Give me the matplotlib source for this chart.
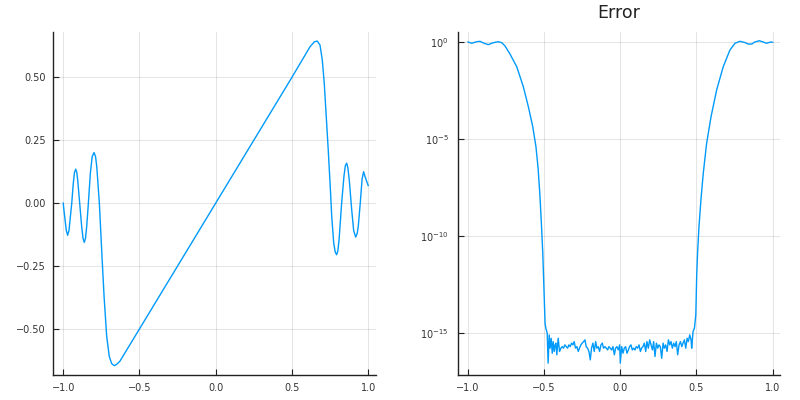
import numpy as np
import matplotlib.pyplot as plt

# left panel: approximation curve
fx = [-1.0, -0.994, -0.988, -0.980, -0.971, -0.962, -0.955, -0.944, -0.934, -0.926,
      -0.918, -0.911, -0.905, -0.892, -0.879, -0.870, -0.862, -0.854, -0.846, -0.835,
      -0.822, -0.810, -0.798, -0.788, -0.780, -0.763, -0.748, -0.732, -0.715, -0.698,
      -0.682, -0.665, -0.648, -0.628, -0.562, -0.5, 0.0, 0.5, 0.586, 0.618,
      0.647, 0.666, 0.684, 0.699, 0.712, 0.725, 0.738, 0.750, 0.761, 0.774,
      0.784, 0.793, 0.801, 0.809, 0.826, 0.841, 0.850, 0.859, 0.867, 0.876,
      0.892, 0.905, 0.918, 0.928, 0.935, 0.948, 0.960, 0.970, 0.979, 1.0]
fy = [0.0, -0.035, -0.066, -0.108, -0.128, -0.108, -0.066, 0.0, 0.079, 0.122,
      0.135, 0.122, 0.092, 0.0, -0.093, -0.140, -0.156, -0.140, -0.093, 0.0,
      0.119, 0.185, 0.201, 0.185, 0.145, 0.0, -0.185, -0.371, -0.529, -0.609,
      -0.638, -0.646, -0.640, -0.628, -0.562, -0.5, 0.0, 0.5, 0.588, 0.621,
      0.641, 0.644, 0.628, 0.569, 0.476, 0.344, 0.212, 0.079, -0.053, -0.159,
      -0.195, -0.205, -0.190, -0.146, 0.0, 0.106, 0.148, 0.159, 0.140, 0.092,
      -0.027, -0.110, -0.135, -0.120, -0.093, 0.0, 0.095, 0.125, 0.106, 0.07]

# right panel: error, stored as log10 exponents
ex = [-1.0, -0.976, -0.943, -0.921, -0.895, -0.867, -0.834, -0.801, -0.779, -0.757,
      -0.724, -0.680, -0.637, -0.604, -0.575, -0.554, -0.540, -0.528, -0.518, -0.509,
      -0.503, -0.499, -0.494,
      -0.489, -0.480, -0.474, -0.467, -0.461, -0.454, -0.447, -0.441, -0.434, -0.428,
      -0.423, -0.417, -0.408, -0.399, -0.390, -0.382, -0.373, -0.364, -0.355, -0.346,
      -0.338, -0.329, -0.320, -0.311, -0.303, -0.294, -0.285, -0.276, -0.268, -0.259,
      -0.250, -0.241, -0.232, -0.224, -0.215, -0.206, -0.197, -0.189, -0.180, -0.171,
      -0.162, -0.154, -0.145, -0.136, -0.127, -0.118, -0.110, -0.101, -0.092, -0.083,
      -0.075, -0.066, -0.057, -0.048, -0.039, -0.031, -0.022, -0.013, -0.004, 0.0,
      0.009, 0.018, 0.026, 0.035, 0.044, 0.053, 0.061, 0.070, 0.079, 0.088,
      0.096, 0.105, 0.114, 0.123, 0.132, 0.140, 0.149, 0.158, 0.167, 0.175,
      0.184, 0.193, 0.202, 0.211, 0.219, 0.228, 0.237, 0.246, 0.254, 0.263,
      0.272, 0.281, 0.289, 0.298, 0.307, 0.316, 0.325, 0.333, 0.342, 0.351,
      0.360, 0.368, 0.377, 0.386, 0.395, 0.404, 0.412, 0.421, 0.430, 0.439,
      0.447, 0.456, 0.465, 0.469, 0.478, 0.487, 0.496,
      0.502, 0.508, 0.517, 0.530, 0.545, 0.567, 0.596, 0.633, 0.676, 0.720,
      0.753, 0.786, 0.814, 0.840, 0.863, 0.884, 0.913, 0.939, 0.961, 0.988, 1.0]
elog = [-0.015, -0.08, 0.0, 0.02, -0.08, -0.15, -0.05, 0.0, -0.05, -0.22,
        -0.64, -1.29, -2.31, -3.34, -4.37, -5.40, -6.50, -7.90, -9.40, -10.90,
        -12.30, -13.40, -14.50,
        -14.74, -15.00, -16.54, -15.09, -15.77, -15.26, -16.03, -15.43, -15.94, -15.60,
        -15.51, -16.11, -15.26, -15.94, -15.77, -15.69, -15.77, -15.60, -15.69, -15.77,
        -15.60, -15.69, -15.51, -15.60, -15.43, -15.77, -15.69, -15.94, -15.77, -15.60,
        -15.51, -15.43, -15.34, -15.69, -15.77, -15.94, -16.37, -15.77, -15.51, -15.94,
        -15.43, -15.77, -15.69, -15.94, -15.60, -15.51, -15.77, -15.69, -15.77, -15.86,
        -15.69, -15.77, -15.86, -15.69, -16.11, -15.77, -15.69, -15.86, -15.60, -16.54,
        -15.69, -16.03, -15.77, -15.69, -16.03, -15.86, -15.69, -15.60, -15.86, -15.77,
        -15.86, -15.69, -15.77, -15.60, -15.94, -15.77, -15.69, -15.51, -15.94, -15.43,
        -15.77, -15.34, -15.60, -15.86, -15.43, -16.20, -15.51, -15.77, -15.60, -15.69,
        -16.29, -15.51, -15.77, -15.60, -15.94, -15.34, -15.60, -15.43, -15.77, -15.51,
        -15.69, -15.43, -16.11, -15.60, -15.43, -15.69, -15.51, -15.34, -15.77, -15.26,
        -15.43, -15.09, -15.34, -15.77, -14.91, -14.74, -14.06,
        -12.00, -10.80, -9.50, -8.10, -6.77, -5.23, -3.86, -2.48, -1.29, -0.43,
        -0.08, 0.02, -0.03, -0.12, -0.12, -0.015, 0.05, -0.015, -0.08, -0.015, -0.03]

xticks = [-1.0, -0.5, 0.0, 0.5, 1.0]
xlabels = ["\u22121.0", "\u22120.5", "0.0", "0.5", "1.0"]
yticks_l = [-0.5, -0.25, 0.0, 0.25, 0.5]
ylabels_l = ["\u22120.50", "\u22120.25", "0.00", "0.25", "0.50"]
yticks_r = [1e0, 1e-5, 1e-10, 1e-15]
ylabels_r = ["$10^{0}$", "$10^{-5}$", "$10^{-10}$", "$10^{-15}$"]

blue = "#009AFA"
plt.rcParams['mathtext.fontset'] = 'dejavusans'

fig = plt.figure(figsize=(8, 4), dpi=100)
ax1 = fig.add_axes([53/800, 1 - 375/400, (375.5 - 53)/800, (375 - 32)/400])
ax2 = fig.add_axes([458.3/800, 1 - 375/400, (780 - 458.3)/800, (375 - 32)/400])

def style(ax):
    for s in ["top", "right"]:
        ax.spines[s].set_visible(False)
    for s in ["left", "bottom"]:
        ax.spines[s].set_linewidth(1.0)
        ax.spines[s].set_color("#222222")
    ax.grid(True, color="black", alpha=0.1, lw=0.8)
    ax.set_axisbelow(True)
    ax.tick_params(direction="in", length=4, width=0.8, labelsize=7,
                   labelcolor="#333333", color="#222222")
    ax.tick_params(axis="x", pad=6)
    ax.minorticks_off()

ax1.plot(fx, fy, color=blue, lw=1.0)
ax1.set_xlim(-1.067, 1.048)
ax1.set_ylim(-0.683, 0.68)
ax1.set_xticks(xticks, xlabels)
ax1.set_yticks(yticks_l, ylabels_l)
style(ax1)
ax1.tick_params(axis="y", pad=5)

ax2.plot(ex, 10.0 ** np.array(elog), color=blue, lw=1.0)
ax2.set_yscale("log")
ax2.set_xlim(-1.064, 1.049)
ax2.set_ylim(10 ** -17.15, 10 ** 0.5)
ax2.set_xticks(xticks, xlabels)
ax2.set_yticks(yticks_r, ylabels_r)
style(ax2)
ax2.tick_params(axis="y", pad=7)
ax2.set_title("Error", fontsize=12.5, pad=10, color="#222222")

fig.savefig("out.png", dpi=100)
